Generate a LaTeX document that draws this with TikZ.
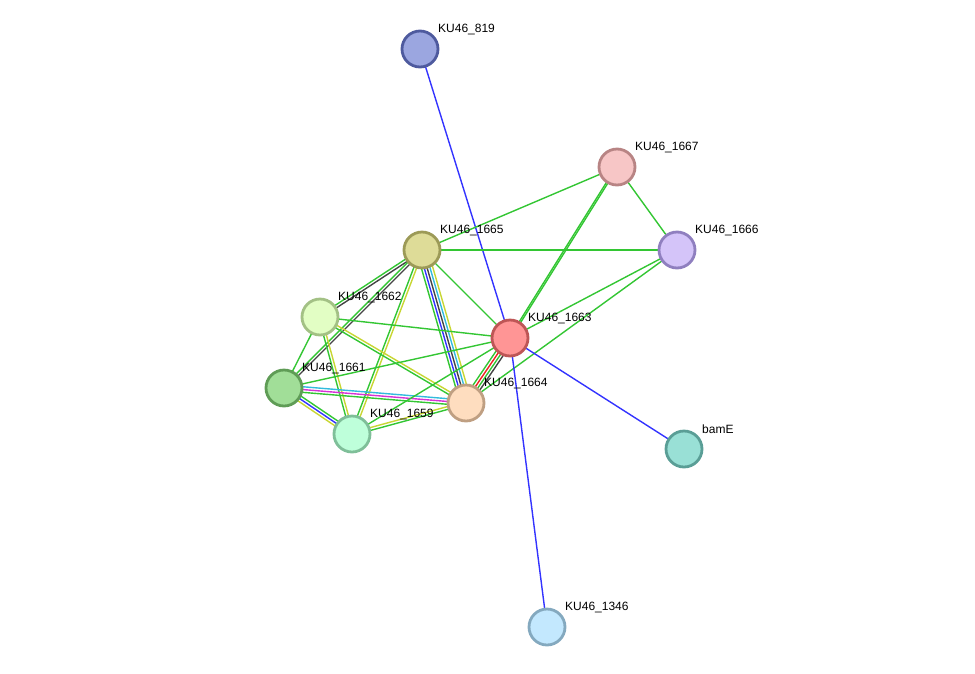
\documentclass[tikz,border=0pt]{standalone}
\usepackage{fontspec}
\setmainfont{Liberation Sans}
\usetikzlibrary{calc}
\definecolor{eg}{HTML}{33C633}
\definecolor{eb}{HTML}{3333FF}
\definecolor{ek}{HTML}{444444}
\definecolor{ec}{HTML}{33BBDD}
\definecolor{ey}{HTML}{C8D633}
\definecolor{em}{HTML}{D633D6}
\definecolor{er}{HTML}{EE2222}
\tikzset{
  edgeline/.style={line width=1.4pt},
  prot/.style={circle, minimum size=36pt, inner sep=0pt, line width=2.8pt},
  lab/.style={anchor=west, inner sep=0pt, font=\fontsize{12}{14}\selectfont}
}
\newcommand\eline[4]{\draw[edgeline,#4] ($(#1)!#3!90:(#2)$) -- ($(#2)!#3!-90:(#1)$);}
\begin{document}
\begin{tikzpicture}[x=1pt,y=-1pt]
\useasboundingbox (0,0) rectangle (975,673);
\coordinate (c819) at (420,49);
\coordinate (c1667) at (617,167);
\coordinate (c1666) at (677,250);
\coordinate (c1665) at (422,250);
\coordinate (c1662) at (320,317);
\coordinate (c1663) at (510,338);
\coordinate (c1661) at (284,388);
\coordinate (c1664) at (466,403);
\coordinate (c1659) at (352,434);
\coordinate (cbamE) at (684,449);
\coordinate (c1346) at (547,627);
% edges
\eline{c1663}{c819}{0pt}{eb}
\eline{c1663}{c1667}{-0.8pt}{eg}
\eline{c1663}{c1667}{0.8pt}{eg}
\eline{c1665}{c1667}{0pt}{eg}
\eline{c1666}{c1667}{0pt}{eg}
\eline{c1665}{c1666}{0pt}{eg}
\eline{c1663}{c1666}{0pt}{eg}
\eline{c1664}{c1666}{0pt}{eg}
\eline{c1665}{c1663}{0pt}{eg}
\eline{c1665}{c1664}{-5.6pt}{eg}
\eline{c1665}{c1664}{-2.8pt}{eb}
\eline{c1665}{c1664}{0pt}{ek}
\eline{c1665}{c1664}{2.8pt}{ec}
\eline{c1665}{c1664}{5.6pt}{ey}
\eline{c1665}{c1659}{-1.4pt}{eg}
\eline{c1665}{c1659}{1.4pt}{ey}
\eline{c1665}{c1662}{-1.4pt}{eg}
\eline{c1665}{c1662}{1.4pt}{ek}
\eline{c1665}{c1661}{-1.4pt}{eg}
\eline{c1665}{c1661}{1.4pt}{ek}
\eline{c1662}{c1663}{0pt}{eg}
\eline{c1662}{c1664}{-1.4pt}{eg}
\eline{c1662}{c1664}{1.4pt}{ey}
\eline{c1662}{c1661}{0pt}{eg}
\eline{c1662}{c1659}{-1.4pt}{eg}
\eline{c1662}{c1659}{1.4pt}{ey}
\eline{c1661}{c1663}{0pt}{eg}
\eline{c1661}{c1664}{-2.8pt}{eg}
\eline{c1661}{c1664}{0pt}{em}
\eline{c1661}{c1664}{2.8pt}{ec}
\eline{c1661}{c1659}{-2.8pt}{ey}
\eline{c1661}{c1659}{0pt}{eb}
\eline{c1661}{c1659}{2.8pt}{eg}
\eline{c1659}{c1664}{-1.4pt}{eg}
\eline{c1659}{c1664}{1.4pt}{ey}
\eline{c1659}{c1663}{0pt}{eg}
\eline{c1664}{c1663}{-4.2pt}{ek}
\eline{c1664}{c1663}{-1.4pt}{eg}
\eline{c1664}{c1663}{1.4pt}{er}
\eline{c1664}{c1663}{4.2pt}{eg}
\eline{c1663}{cbamE}{0pt}{eb}
\eline{c1663}{c1346}{0pt}{eb}
% nodes
\node[prot, fill={rgb,255:red,155;green,166;blue,224}, draw={rgb,255:red,78;green,90;blue,158}] (n819) at (c819) {};
\node[prot, fill={rgb,255:red,247;green,198;blue,198}, draw={rgb,255:red,184;green,132;blue,132}] (n1667) at (c1667) {};
\node[prot, fill={rgb,255:red,212;green,196;blue,249}, draw={rgb,255:red,143;green,127;blue,191}] (n1666) at (c1666) {};
\node[prot, fill={rgb,255:red,222;green,220;blue,152}, draw={rgb,255:red,156;green,154;blue,87}] (n1665) at (c1665) {};
\node[prot, fill={rgb,255:red,226;green,254;blue,196}, draw={rgb,255:red,163;green,193;blue,133}] (n1662) at (c1662) {};
\node[prot, fill={rgb,255:red,255;green,149;blue,149}, draw={rgb,255:red,190;green,86;blue,86}] (n1663) at (c1663) {};
\node[prot, fill={rgb,255:red,161;green,222;blue,152}, draw={rgb,255:red,95;green,156;blue,86}] (n1661) at (c1661) {};
\node[prot, fill={rgb,255:red,254;green,221;blue,191}, draw={rgb,255:red,191;green,159;blue,130}] (n1664) at (c1664) {};
\node[prot, fill={rgb,255:red,190;green,255;blue,218}, draw={rgb,255:red,127;green,191;blue,153}] (n1659) at (c1659) {};
\node[prot, fill={rgb,255:red,153;green,224;blue,214}, draw={rgb,255:red,90;green,158;blue,150}] (nbamE) at (cbamE) {};
\node[prot, fill={rgb,255:red,195;green,232;blue,254}, draw={rgb,255:red,132;green,169;blue,191}] (n1346) at (c1346) {};
% labels
\node[lab] (l819) at ($(c819)+(18,-20)$) {KU46\_819};
\node[lab] (l1667) at ($(c1667)+(18,-20)$) {KU46\_1667};
\node[lab] (l1666) at ($(c1666)+(18,-20)$) {KU46\_1666};
\node[lab] (l1665) at ($(c1665)+(18,-20)$) {KU46\_1665};
\node[lab] (l1662) at ($(c1662)+(18,-20)$) {KU46\_1662};
\node[lab] (l1663) at ($(c1663)+(18,-20)$) {KU46\_1663};
\node[lab] (l1661) at ($(c1661)+(18,-20)$) {KU46\_1661};
\node[lab] (l1664) at ($(c1664)+(18,-20)$) {KU46\_1664};
\node[lab] (l1659) at ($(c1659)+(18,-20)$) {KU46\_1659};
\node[lab] (lbamE) at ($(cbamE)+(18,-20)$) {bamE};
\node[lab] (l1346) at ($(c1346)+(18,-20)$) {KU46\_1346};
\end{tikzpicture}
\end{document}
